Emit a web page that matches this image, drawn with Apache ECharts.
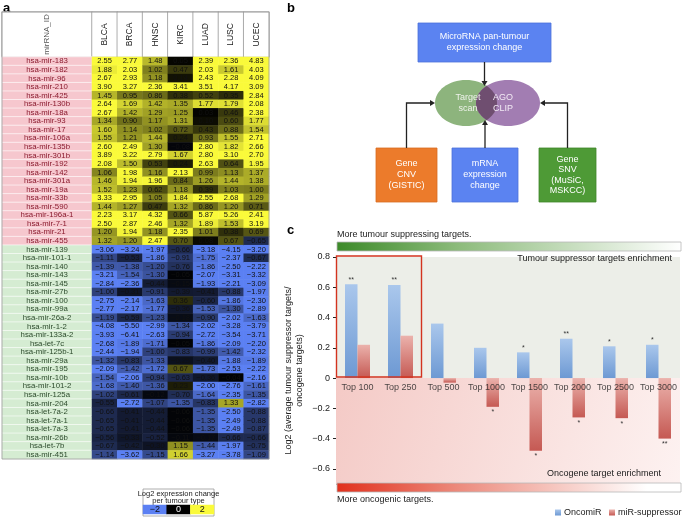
<!DOCTYPE html>
<html><head><meta charset="utf-8">
<script src="https://cdn.jsdelivr.net/npm/echarts@6/dist/echarts.min.js"></script>
<style>html,body{margin:0;padding:0;background:#fff}#c{width:685px;height:517px}</style>
</head><body><div id="c"></div>
<script>
// ---------- Panel a data ----------
const tumours = ['BLCA','BRCA','HNSC','KIRC','LUAD','LUSC','UCEC'];
const oncomirNames = ['hsa-mir-183','hsa-mir-182','hsa-mir-96','hsa-mir-210','hsa-mir-425','hsa-mir-130b','hsa-mir-18a','hsa-mir-93','hsa-mir-17','hsa-mir-106a','hsa-mir-135b','hsa-mir-301b','hsa-mir-192','hsa-mir-142','hsa-mir-301a','hsa-mir-19a','hsa-mir-33b','hsa-mir-590','hsa-mir-196a-1','hsa-mir-7-1','hsa-mir-21','hsa-mir-455'];
const suppressorNames = ['hsa-mir-139','hsa-mir-101-1','hsa-mir-140','hsa-mir-143','hsa-mir-145','hsa-mir-27b','hsa-mir-100','hsa-mir-99a','hsa-mir-26a-2','hsa-mir-1-2','hsa-mir-133a-2','hsa-let-7c','hsa-mir-125b-1','hsa-mir-29a','hsa-mir-195','hsa-mir-10b','hsa-mir-101-2','hsa-mir-125a','hsa-mir-204','hsa-let-7a-2','hsa-let-7a-1','hsa-let-7a-3','hsa-mir-26b','hsa-let-7b','hsa-mir-451'];
const blca = [2.55,1.88,2.67,3.90,1.45,2.64,2.67,1.34,1.60,1.55,2.60,3.89,2.08,1.06,1.46,1.52,3.33,1.44,2.23,2.50,1.20,1.32,
  -3.06,-1.11,-1.39,-3.21,-2.84,-1.00,-2.75,-2.77,-1.19,-4.08,-3.93,-2.68,-2.44,-1.32,-2.09,-1.54,-1.68,-1.02,-0.55,-0.66,-0.65,-0.65,-0.56,-0.67,-1.14];
const brca = [2.77,2.03,2.93,3.27,0.95,1.69,1.42,0.90,1.14,1.21,2.49,3.22,1.50,1.98,1.94,1.23,2.95,1.27,3.17,2.87,1.94,1.20,
  -3.24,-0.53,-1.38,-1.54,-2.36,-0.31,-2.14,-2.17,-0.59,-5.50,-6.41,-1.89,-1.94,-0.83,-1.42,-2.06,-1.40,-0.61,-2.72,-0.41,-0.41,-0.41,-0.33,-0.42,-3.62];
const hnsc = [1.48,1.02,1.18,2.36,0.86,1.42,1.29,1.17,1.02,1.44,1.30,2.79,0.53,1.16,1.96,0.62,1.05,0.47,4.32,2.46,1.18,2.47,
  -1.97,-1.86,-1.20,-1.30,-0.44,-0.91,-1.63,-1.77,-1.23,-2.99,-2.63,-1.71,-1.00,-1.33,-1.72,-0.94,-1.36,-0.12,-1.07,-0.44,-0.44,-0.44,-0.52,-0.30,-1.15];
const kirc = [0.05,0.47,0.14,3.41,0.38,1.35,1.25,1.31,0.72,0.24,-0.08,1.67,0.24,2.13,0.84,1.18,1.84,1.32,0.66,1.32,2.35,0.70,
  -0.66,-0.91,-0.76,-0.05,-0.15,-0.39,0.36,-0.36,-0.18,-1.34,-0.94,-0.05,-0.83,-0.25,0.67,-0.63,0.23,-0.70,-1.35,-0.06,-0.06,-0.06,-0.11,1.15,1.66];
const luad = [2.39,2.03,2.43,3.51,0.52,1.77,0.03,0.10,0.43,0.93,2.80,2.80,2.63,0.99,1.26,0.39,2.55,0.86,5.87,1.89,1.01,0.08,
  -3.18,-1.75,-1.86,-2.07,-1.93,-0.41,-0.60,-1.53,-0.90,-2.02,-2.72,-1.86,-0.99,-0.40,-1.73,-0.36,-2.00,-1.64,-0.83,-1.35,-1.35,-1.35,-0.17,-1.44,-3.27];
const lusc = [2.36,1.61,2.28,4.17,0.35,1.79,0.46,0.60,0.88,1.55,1.82,3.10,0.64,1.13,1.44,1.03,2.68,1.20,5.26,1.53,0.38,0.67,
  -4.15,-2.37,-2.50,-3.31,-2.21,-0.88,-1.86,-1.30,-2.02,-3.28,-3.54,-2.09,-1.42,-1.88,-2.53,-0.04,-2.76,-2.35,1.33,-2.50,-2.49,-2.49,-0.66,-1.97,-3.78];
const ucec = [4.83,4.03,4.09,3.09,2.84,2.08,2.38,1.77,1.54,2.71,2.66,2.70,1.95,1.37,1.38,1.00,1.29,0.71,2.41,3.19,0.69,-0.65,
  -3.20,-0.67,-2.22,-3.32,-3.09,-1.97,-2.30,-2.89,-1.63,-3.79,-3.71,-2.20,-2.32,-1.89,-2.22,-2.16,-1.61,-1.35,-2.82,-0.88,-0.88,-0.87,-0.66,-0.75,-1.09];
const legendValues = [-2, 0, 2];

// ---------- Panel c data ----------
const topLabels = ['Top 100','Top 250','Top 500','Top 1000','Top 1500','Top 2000','Top 2500','Top 3000'];
const oncomiR = [0.62,0.615,0.36,0.20,0.17,0.26,0.21,0.22];
const suppressor = [0.22,0.28,-0.03,-0.19,-0.48,-0.26,-0.265,-0.40];
const oncomiRStars = ['**','**','','','*','**','*','*'];
const suppressorStars = ['','','','*','*','*','*','**'];
const yTicks = [-0.6,-0.4,-0.2,0,0.2,0.4,0.6,0.8];
const yMin = -0.7, yMax = 0.8;

// ---------- build ----------
const FONT = 'Liberation Sans, Arial, Helvetica, sans-serif';
const mirNames = oncomirNames.concat(suppressorNames);
const columns = [blca, brca, hnsc, kirc, luad, lusc, ucec];
const cellData = [];
columns.forEach((col, ci) => col.forEach((v, ri) => cellData.push([ci, ri, v])));
const nUp = oncomirNames.length;
const nameData = mirNames.map((n, i) => ({
  value: [0, i, 0],
  itemStyle: {color: i < nUp ? '#f6c7ce' : '#d5ecd2'},
  label: {color: i < nUp ? '#8a1b2f' : '#2c4a2c'}
}));
const fmt = v => (v < 0 ? '\u2212' : '') + Math.abs(v).toFixed(2);
const fmtTick = v => (v < 0 ? '\u2212' : '') + String(Math.round(Math.abs(v) * 10) / 10);

const lin = (x, y, x2, y2, stops) => ({type: 'linear', x, y, x2, y2, colorStops: stops.map(s => ({offset: s[0], color: s[1]}))});
const blueGrad = lin(0,0,0,1,[[0,'#aac7ec'],[1,'#6d99d3']]);
const redGrad = lin(0,0,0,1,[[0,'#ebb2ac'],[1,'#c55953']]);

const txt = (x, y, t, o, z) => ({type: 'text', x, y, z: z || 0, style: Object.assign({text: t, font: '9px ' + FONT, fill: '#222', align: 'left', verticalAlign: 'middle'}, o || {})});
const W = '#ffffff';

function lensPoints() {
  const g = {cx: 466, cy: 103, rx: 31, ry: 23}, p = {cx: 508, cy: 103, rx: 32, ry: 23};
  const xi = (p.cx * g.rx + g.cx * p.rx) / (g.rx + p.rx);
  const tg = Math.acos((xi - g.cx) / g.rx), tp = Math.acos((p.cx - xi) / p.rx);
  const pts = [];
  for (let k = 0; k <= 20; k++) { const t = -tg + 2 * tg * k / 20; pts.push([g.cx + g.rx * Math.cos(t), g.cy + g.ry * Math.sin(t)]); }
  for (let k = 0; k <= 20; k++) { const t = Math.PI - tp + 2 * tp * k / 20; pts.push([p.cx + p.rx * Math.cos(t), p.cy + p.ry * Math.sin(t)]); }
  return pts;
}

const barGrid = {left: 336, top: 257, width: 344, height: 227};

const graphic = [
  txt(3, 8, 'a', {font: 'bold 13px ' + FONT, fill: '#000'}),
  txt(287, 8, 'b', {font: 'bold 13px ' + FONT, fill: '#000'}),
  txt(287, 230, 'c', {font: 'bold 13px ' + FONT, fill: '#000'}),
  {type: 'rect', z: 10, shape: {x: 2, y: 12, width: 267, height: 447}, style: {fill: 'none', stroke: '#9a9a9a', lineWidth: 0.8}},
  {type: 'rect', shape: {x: 143, y: 489, width: 71, height: 27}, style: {fill: '#fff', stroke: '#999', lineWidth: 0.8}},
  txt(178.5, 494, 'Log2 expression change', {font: '7.5px ' + FONT, align: 'center'}),
  txt(178.5, 501, 'per tumour type', {font: '7.5px ' + FONT, align: 'center'}),

  // panel b
  {type: 'rect', shape: {x: 418, y: 23, width: 133, height: 39}, style: {fill: '#5b83f1', stroke: '#4b72da', lineWidth: 0.8}},
  txt(484.5, 42.5, 'MicroRNA pan-tumour\nexpression change', {fill: W, align: 'center', lineHeight: 11}),
  {type: 'ellipse', shape: {cx: 466, cy: 103, rx: 31, ry: 23}, style: {fill: '#8db47d'}},
  {type: 'ellipse', shape: {cx: 508, cy: 103, rx: 32, ry: 23}, style: {fill: '#a27db2'}},
  {type: 'polygon', shape: {points: lensPoints()}, style: {fill: '#6f4e70'}},
  txt(468, 103, 'Target\nscan', {fill: '#eef2ea', align: 'center', lineHeight: 11}),
  txt(503, 103, 'AGO\nCLIP', {fill: '#f2eaf4', align: 'center', lineHeight: 11}),
  {type: 'rect', shape: {x: 376, y: 148, width: 61, height: 54}, style: {fill: '#ec7b2b', stroke: '#d86c22', lineWidth: 0.8}},
  txt(406.5, 175, 'Gene\nCNV\n(GISTIC)', {fill: W, align: 'center', lineHeight: 11}),
  {type: 'rect', shape: {x: 452, y: 148, width: 66, height: 54}, style: {fill: '#5b83f1', stroke: '#4b72da', lineWidth: 0.8}},
  txt(485, 175, 'mRNA\nexpression\nchange', {fill: W, align: 'center', lineHeight: 11}),
  {type: 'rect', shape: {x: 539, y: 148, width: 57, height: 54}, style: {fill: '#4e9a36', stroke: '#3f862a', lineWidth: 0.8}},
  txt(567.5, 175, 'Gene\nSNV\n(MuSiC,\nMSKCC)', {fill: W, align: 'center', lineHeight: 10.5}),
  {type: 'polyline', shape: {points: [[484.5, 62], [484.5, 82]]}, style: {stroke: '#222', lineWidth: 1.3, fill: 'none'}},
  {type: 'polygon', shape: {points: [[481.5, 81], [487.5, 81], [484.5, 86]]}, style: {fill: '#222'}},
  {type: 'polyline', shape: {points: [[406.5, 148], [406.5, 103], [431, 103]]}, style: {stroke: '#222', lineWidth: 1.3, fill: 'none'}},
  {type: 'polygon', shape: {points: [[430, 100], [430, 106], [435, 103]]}, style: {fill: '#222'}},
  {type: 'polyline', shape: {points: [[485, 148], [485, 124]]}, style: {stroke: '#222', lineWidth: 1.3, fill: 'none'}},
  {type: 'polygon', shape: {points: [[482, 125], [488, 125], [485, 120]]}, style: {fill: '#222'}},
  {type: 'polyline', shape: {points: [[567.5, 148], [567.5, 103], [544, 103]]}, style: {stroke: '#222', lineWidth: 1.3, fill: 'none'}},
  {type: 'polygon', shape: {points: [[545, 100], [545, 106], [540, 103]]}, style: {fill: '#222'}},

  // panel c decorations
  txt(337, 235, 'More tumour suppressing targets.'),
  {type: 'rect', shape: {x: 337, y: 242, width: 344, height: 9}, style: {fill: lin(0,0,1,0,[[0,'#3c8a29'],[0.35,'#8cbb7b'],[1,'#ffffff']]), stroke: '#b8b8b8', lineWidth: 0.8}},
  txt(672, 259, 'Tumour suppressor targets enrichment', {align: 'right'}, 10),
  txt(661, 474, 'Oncogene target enrichment', {align: 'right'}, 10),
  {type: 'rect', z: 10, shape: {x: 337, y: 483, width: 344, height: 9}, style: {fill: lin(0,0,1,0,[[0,'#e1301c'],[0.35,'#ec8a7c'],[0.9,'#ffffff'],[1,'#ffffff']]), stroke: '#b8b8b8', lineWidth: 0.8}},
  txt(337, 500, 'More oncogenic targets.'),
  {type: 'rect', z: 10, shape: {x: 336.5, y: 256, width: 85, height: 121}, style: {fill: 'none', stroke: '#d3331f', lineWidth: 1.4}}
];

const legendBase = {top: 508, padding: 0, icon: 'rect', itemWidth: 6, itemHeight: 6, textStyle: {fontSize: 9, color: '#222', padding: [0, 0, 0, -2]}};

const option = {
  animation: false,
  textStyle: {fontFamily: FONT},
  grid: [
    {left: 2, top: 12, width: 90, height: 45},
    {left: 92, top: 12, width: 177, height: 45},
    {left: 2, top: 57, width: 90, height: 402},
    {left: 92, top: 57, width: 177, height: 402},
    {left: 143, top: 505, width: 71, height: 9},
    barGrid
  ],
  xAxis: [
    {type: 'category', gridIndex: 0, data: ['id'], show: false},
    {type: 'category', gridIndex: 1, data: tumours, show: false},
    {type: 'category', gridIndex: 2, data: ['name'], show: false},
    {type: 'category', gridIndex: 3, data: tumours, show: false},
    {type: 'category', gridIndex: 4, data: legendValues.map(String), show: false},
    {type: 'category', gridIndex: 5, data: topLabels,
      axisLine: {show: false}, axisTick: {show: false}, axisLabel: {show: false}}
  ],
  yAxis: [
    {type: 'category', gridIndex: 0, data: ['h'], show: false},
    {type: 'category', gridIndex: 1, data: ['h'], show: false},
    {type: 'category', gridIndex: 2, data: mirNames, inverse: true, show: false},
    {type: 'category', gridIndex: 3, data: mirNames, inverse: true, show: false},
    {type: 'category', gridIndex: 4, data: ['l'], show: false},
    {type: 'value', gridIndex: 5, min: yMin, max: yMax,
      name: 'Log2 (average tumour suppressor targets/\noncogene targets)',
      nameLocation: 'middle', nameRotate: 90, nameGap: 31, nameMoveOverlap: false,
      nameTextStyle: {fontSize: 9, color: '#222', lineHeight: 11},
      axisLine: {show: true, lineStyle: {color: '#222', width: 1}},
      axisTick: {show: true, length: 3, customValues: yTicks, lineStyle: {color: '#222'}},
      axisLabel: {fontSize: 9, color: '#222', margin: 6, customValues: yTicks, formatter: fmtTick},
      splitLine: {show: false}}
  ],
  visualMap: {type: 'continuous', show: false, min: -2, max: 2, dimension: 2, seriesIndex: [3, 4],
    inRange: {color: ['#5b80f3', '#000000', '#fafa3a']}},
  legend: [
    Object.assign({data: ['OncomiR'], left: 555}, legendBase),
    Object.assign({data: ['miR-suppressor'], left: 609}, legendBase)
  ],
  graphic: graphic,
  series: [
    {type: 'heatmap', xAxisIndex: 0, yAxisIndex: 0, data: [[0, 0, 0]],
      itemStyle: {color: '#fff', borderColor: '#9a9a9a', borderWidth: 0.8},
      label: {show: true, formatter: 'mirRNA_ID', rotate: 90, fontSize: 8, color: '#555'}, emphasis: {disabled: true}},
    {type: 'heatmap', xAxisIndex: 1, yAxisIndex: 1, data: tumours.map((t, i) => [i, 0, 0]),
      itemStyle: {color: '#fff', borderColor: '#9a9a9a', borderWidth: 0.8},
      label: {show: true, formatter: p => tumours[p.value[0]], rotate: 90, fontSize: 8.5, color: '#222'}, emphasis: {disabled: true}},
    {type: 'heatmap', xAxisIndex: 2, yAxisIndex: 2, data: nameData,
      itemStyle: {borderColor: '#ffffff', borderWidth: 0.6},
      label: {show: true, formatter: p => mirNames[p.value[1]], fontSize: 7.8}, emphasis: {disabled: true}},
    {type: 'heatmap', xAxisIndex: 3, yAxisIndex: 3, data: cellData,
      label: {show: true, formatter: p => fmt(p.value[2]), fontSize: 7.5, color: '#111'}, emphasis: {disabled: true}},
    {type: 'heatmap', xAxisIndex: 4, yAxisIndex: 4,
      data: legendValues.map((v, i) => ({value: [i, 0, v], label: {color: v === 0 ? '#fff' : '#111'}})),
      label: {show: true, formatter: p => fmtTick(p.value[2]), fontSize: 9}, emphasis: {disabled: true}},
    {name: 'OncomiR', type: 'bar', xAxisIndex: 5, yAxisIndex: 5, data: oncomiR, barWidth: 12.5, barGap: '0%',
      itemStyle: {color: blueGrad},
      label: {show: true, position: 'top', distance: 1, fontSize: 7, color: '#333', formatter: p => oncomiRStars[p.dataIndex]},
      markArea: {silent: true, data: [
        [{yAxis: 0, itemStyle: {color: '#eceee8', opacity: 1}}, {yAxis: yMax}],
        [{yAxis: yMin, itemStyle: {color: lin(0,0,1,1,[[0,'#f4cac6'],[1,'#fdf2f1']]), opacity: 1}}, {yAxis: 0}]
      ]}},
    {name: 'miR-suppressor', type: 'bar', xAxisIndex: 5, yAxisIndex: 5, data: suppressor, barWidth: 12.5, barGap: '0%',
      itemStyle: {color: redGrad},
      label: {show: true, position: 'bottom', distance: 2, fontSize: 7, color: '#333', formatter: p => suppressorStars[p.dataIndex]}},
    // category labels drawn on the zero line
    {type: 'scatter', xAxisIndex: 5, yAxisIndex: 5, z: 5, silent: true,
      data: topLabels.map(c => [c, 0]), symbolSize: 1, itemStyle: {color: 'rgba(0,0,0,0)'},
      label: {show: true, position: 'bottom', distance: 4, fontSize: 9, color: '#222', formatter: p => topLabels[p.dataIndex]},
      emphasis: {disabled: true}}
  ]
};
const chart = echarts.init(document.getElementById('c'));
chart.setOption(option);
</script></body></html>
